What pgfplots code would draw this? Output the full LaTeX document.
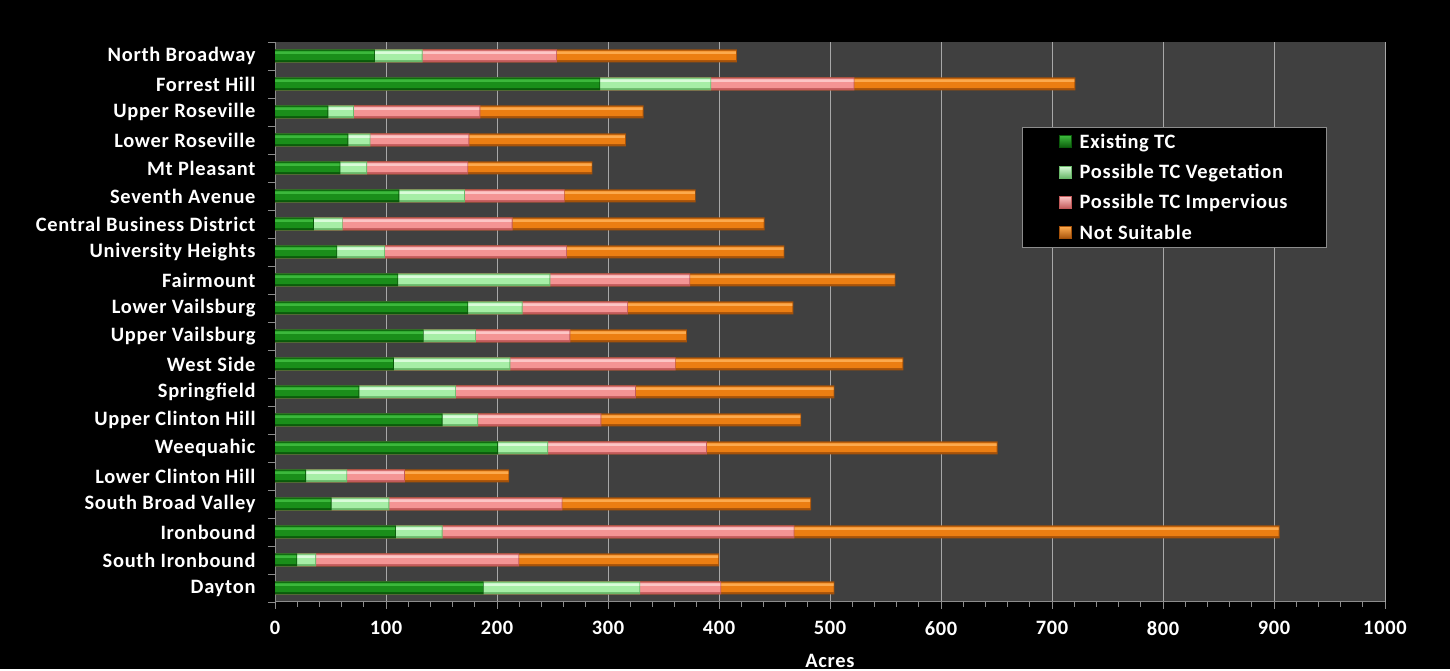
\documentclass[border=0pt]{standalone}
\usepackage{pgfplots}
\pgfplotsset{compat=1.18}
\usepackage{pgfplotstable}
\usepackage{fontspec}
\setmainfont{Carlito}[LetterSpace=3.5]
\definecolor{plotbg}{HTML}{404040}
\definecolor{gridgray}{HTML}{A8A8A8}
\definecolor{axisgray}{HTML}{8C8C8C}
\definecolor{gT}{HTML}{3CB83C}\definecolor{gM}{HTML}{1A8E1A}\definecolor{gB}{HTML}{0B5A0B}
\definecolor{lT}{HTML}{DAFCDA}\definecolor{lM}{HTML}{A6EEA6}\definecolor{lB}{HTML}{6AB86A}
\definecolor{pT}{HTML}{FCC6C6}\definecolor{pM}{HTML}{F49494}\definecolor{pB}{HTML}{C25A5A}
\definecolor{oT}{HTML}{FCAA4E}\definecolor{oM}{HTML}{EC7E12}\definecolor{oB}{HTML}{A5520A}
\pgfplotstableread[col sep=comma]{
name,e,v,i,n
Dayton,188,141,73,102
South Ironbound,20,17,183,180
Ironbound,109,42,317,437
South Broad Valley,51,52,156,224
Lower Clinton Hill,28,37,52,94
Weequahic,201,45,143,262
Upper Clinton Hill,151,32,111,180
Springfield,76,87,162,179
West Side,107,105,149,205
Upper Vailsburg,134,47,85,105
Lower Vailsburg,174,49,95,149
Fairmount,111,137,126,185
University Heights,56,43,164,196
Central Business District,35,26,153,227
Seventh Avenue,112,59,90,118
Mt Pleasant,59,24,91,112
Lower Roseville,66,20,89,141
Upper Roseville,48,23,114,147
Forrest Hill,293,100,129,199
North Broadway,90,43,121,162
}\data
\newcommand\lbl{\bfseries\fontsize{20.5}{24}\selectfont}
\begin{document}
\begin{tikzpicture}
\fill[black] (0,0) rectangle (1450bp,669bp);
\begin{axis}[
  at={(275bp,67bp)}, anchor=south west,
  scale only axis, width=1110bp, height=560bp,
  xmin=0, xmax=1000, ymin=-0.5, ymax=19.5,
  axis x line*=bottom, axis y line*=left,
  axis line style={draw=axisgray, line width=1bp},
  axis background/.style={fill=plotbg},
  xtick={0,100,...,1000},
  minor x tick num=4,
  xmajorgrids,
  major grid style={draw=gridgray, line width=0.8bp},
  tick style={draw=axisgray, line width=0.8bp},
  tick align=outside,
  major tick length=7bp, minor tick length=5bp,
  ytick={-0.5,0.5,...,19.5},
  yticklabels={},
  extra y ticks={0,1,...,19},
  extra y tick labels={Dayton,South Ironbound,Ironbound,South Broad Valley,Lower Clinton Hill,Weequahic,Upper Clinton Hill,Springfield,West Side,Upper Vailsburg,Lower Vailsburg,Fairmount,University Heights,Central Business District,Seventh Avenue,Mt Pleasant,Lower Roseville,Upper Roseville,Forrest Hill,North Broadway},
  extra y tick style={major tick length=0pt, yticklabel style={xshift=-16bp}},
  /pgf/number format/assume math mode=true,
  /pgf/number format/1000 sep={},
  tick label style={text=white, font=\lbl},
  xticklabel style={yshift=-9bp},
  xlabel={Acres},
  xlabel style={at={(axis description cs:0.5,-0.105)}, anchor=center, text=white, font=\lbl},
  legend cell align=left,
  legend style={at={(0.673,0.848)}, anchor=north west, fill=black, draw=axisgray,
     text=white, font=\lbl,
     inner xsep=37bp, inner ysep=4.5bp, row sep=10.5bp,
     /tikz/every odd column/.append style={column sep=6bp}},
  every axis plot/.append style={xbar, bar shift=0pt, draw=none, forget plot},
]
\addlegendimage{legend image code/.code={\path[draw=gB,line width=0.5bp,top color=gT,bottom color=gB] (0bp,-6bp) rectangle (12bp,6bp);}}
\addlegendimage{legend image code/.code={\path[draw=lB,line width=0.5bp,top color=lT,bottom color=lB] (0bp,-6bp) rectangle (12bp,6bp);}}
\addlegendimage{legend image code/.code={\path[draw=pB,line width=0.5bp,top color=pT,bottom color=pB] (0bp,-6bp) rectangle (12bp,6bp);}}
\addlegendimage{legend image code/.code={\path[draw=oB,line width=0.5bp,top color=oT,bottom color=oB] (0bp,-6bp) rectangle (12bp,6bp);}}
% Not Suitable (total)
\addplot[bar width=13bp, fill=oB] table[x expr=\thisrow{e}+\thisrow{v}+\thisrow{i}+\thisrow{n}, y expr=\coordindex] {\data};
\addplot[bar width=9.5bp, bar shift=0.6bp, fill=oM] table[x expr=\thisrow{e}+\thisrow{v}+\thisrow{i}+\thisrow{n}-0.8, y expr=\coordindex] {\data};
\addplot[bar width=2.5bp, bar shift=3.4bp, fill=oT] table[x expr=\thisrow{e}+\thisrow{v}+\thisrow{i}+\thisrow{n}-0.8, y expr=\coordindex] {\data};
% Possible TC Impervious
\addplot[bar width=13bp, fill=pB] table[x expr=\thisrow{e}+\thisrow{v}+\thisrow{i}, y expr=\coordindex] {\data};
\addplot[bar width=9.5bp, bar shift=0.6bp, fill=pM] table[x expr=\thisrow{e}+\thisrow{v}+\thisrow{i}-0.8, y expr=\coordindex] {\data};
\addplot[bar width=2.5bp, bar shift=3.4bp, fill=pT] table[x expr=\thisrow{e}+\thisrow{v}+\thisrow{i}-0.8, y expr=\coordindex] {\data};
% Possible TC Vegetation
\addplot[bar width=13bp, fill=lB] table[x expr=\thisrow{e}+\thisrow{v}, y expr=\coordindex] {\data};
\addplot[bar width=9.5bp, bar shift=0.6bp, fill=lM] table[x expr=\thisrow{e}+\thisrow{v}-0.8, y expr=\coordindex] {\data};
\addplot[bar width=2.5bp, bar shift=3.4bp, fill=lT] table[x expr=\thisrow{e}+\thisrow{v}-0.8, y expr=\coordindex] {\data};
% Existing TC
\addplot[bar width=13bp, fill=gB] table[x=e, y expr=\coordindex] {\data};
\addplot[bar width=9.5bp, bar shift=0.6bp, fill=gM] table[x expr=\thisrow{e}-0.8, y expr=\coordindex] {\data};
\addplot[bar width=2.5bp, bar shift=3.4bp, fill=gT] table[x expr=\thisrow{e}-0.8, y expr=\coordindex] {\data};
\legend{Existing TC, Possible TC Vegetation, Possible TC Impervious, Not Suitable}
\end{axis}
\end{tikzpicture}
\end{document}
